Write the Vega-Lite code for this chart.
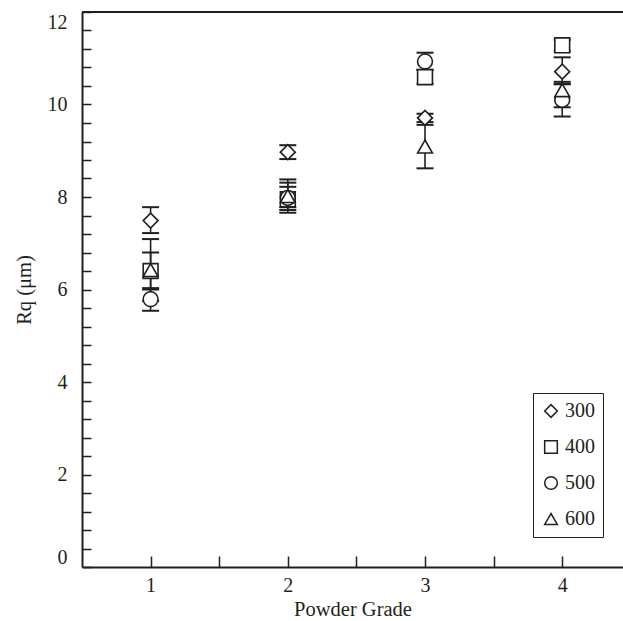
{
  "$schema": "https://vega.github.io/schema/vega-lite/v6.json",
  "autosize": "none",
  "width": 541,
  "height": 555,
  "padding": {"left": 82, "top": 12, "right": 0, "bottom": 54},
  "background": "white",
  "config": {
    "font": "Liberation Serif",
    "view": {"stroke": null},
    "axis": {"grid": false, "labelOverlap": false, "domainColor": "#231f20", "domainWidth": 2, "tickColor": "#231f20", "tickWidth": 1.5, "labelColor": "#231f20", "titleColor": "#231f20", "labelFont": "Liberation Serif", "titleFont": "Liberation Serif", "labelFontSize": 20, "titleFontSize": 20.5, "titleFontWeight": "normal"}
  },
  "data": {"values": [
    {"grade": 1, "series": "300", "value": 7.49, "lo": 7.22, "hi": 7.78},
    {"grade": 1, "series": "400", "value": 6.40, "lo": 6.00, "hi": 6.80},
    {"grade": 1, "series": "500", "value": 5.79, "lo": 5.54, "hi": 6.03},
    {"grade": 1, "series": "600", "value": 6.42, "lo": 5.75, "hi": 7.09},
    {"grade": 2, "series": "300", "value": 8.97, "lo": 8.82, "hi": 9.12},
    {"grade": 2, "series": "400", "value": 7.95, "lo": 7.66, "hi": 8.22},
    {"grade": 2, "series": "500", "value": 7.98, "lo": 7.72, "hi": 8.31},
    {"grade": 2, "series": "600", "value": 8.02, "lo": 7.78, "hi": 8.38},
    {"grade": 3, "series": "300", "value": 9.71, "lo": 9.62, "hi": 9.80},
    {"grade": 3, "series": "400", "value": 10.59, "lo": 10.45, "hi": 10.75},
    {"grade": 3, "series": "500", "value": 10.93, "lo": 10.75, "hi": 11.12},
    {"grade": 3, "series": "600", "value": 9.09, "lo": 8.62, "hi": 9.56},
    {"grade": 4, "series": "300", "value": 10.71, "lo": 10.44, "hi": 11.02},
    {"grade": 4, "series": "400", "value": 11.28, "lo": 11.15, "hi": 11.40},
    {"grade": 4, "series": "500", "value": 10.10, "lo": 9.74, "hi": 10.44},
    {"grade": 4, "series": "600", "value": 10.31, "lo": 9.94, "hi": 10.49}
  ]},
  "layer": [
    {
      "mark": {"type": "rule", "color": "#231f20", "strokeWidth": 1.5},
      "encoding": {"y": {"datum": 12, "type": "quantitative"}}
    },
    {
      "mark": {"type": "rule", "color": "#231f20", "strokeWidth": 1.6},
      "encoding": {
        "x": {"field": "grade", "type": "quantitative"},
        "y": {"field": "lo", "type": "quantitative"},
        "y2": {"field": "hi"}
      }
    },
    {
      "mark": {"type": "tick", "orient": "horizontal", "color": "#231f20", "size": 17, "thickness": 2, "opacity": 1},
      "encoding": {"x": {"field": "grade", "type": "quantitative"}, "y": {"field": "lo", "type": "quantitative"}}
    },
    {
      "mark": {"type": "tick", "orient": "horizontal", "color": "#231f20", "size": 17, "thickness": 2, "opacity": 1},
      "encoding": {"x": {"field": "grade", "type": "quantitative"}, "y": {"field": "hi", "type": "quantitative"}}
    },
    {
      "mark": {"type": "point", "filled": false, "fill": "white", "fillOpacity": 1, "stroke": "#231f20", "strokeWidth": 1.6, "size": 220, "opacity": 1},
      "encoding": {
        "x": {"field": "grade", "type": "quantitative", "scale": {"domain": [0.5, 4.443], "nice": false, "zero": false},
          "axis": {"title": "Powder Grade", "values": [1, 1.5, 2, 2.5, 3, 3.5, 4], "tickCount": 100, "labelExpr": "datum.value % 1 === 0 ? format(datum.value, 'd') : ''", "tickSize": -11, "labelPadding": 19, "titlePadding": 4}},
        "y": {"field": "value", "type": "quantitative", "scale": {"domain": [0, 12], "nice": false, "zero": false},
          "axis": {"title": "Rq (μm)", "values": [0, 0.4, 0.8, 1.2, 1.6, 2, 2.4, 2.8, 3.2, 3.6, 4, 4.4, 4.8, 5.2, 5.6, 6, 6.4, 6.8, 7.2, 7.6, 8, 8.4, 8.8, 9.2, 9.6, 10, 10.4, 10.8, 11.2, 11.6, 12],
            "tickCount": 100, "labelExpr": "datum.value % 2 === 0 ? format(datum.value, 'd') : ''", "tickSize": -9, "labelPadding": 24, "labelFlush": true, "labelFlushOffset": 0, "titlePadding": 13}},
        "shape": {"field": "series", "type": "nominal",
          "scale": {"domain": ["300", "400", "500", "600"], "range": ["diamond", "square", "circle", "triangle-up"]},
          "legend": {"title": null, "orient": "none", "legendX": 451, "legendY": 381, "strokeColor": "#231f20", "fillColor": "white", "padding": 8, "rowPadding": 16, "labelFont": "Liberation Serif", "labelFontSize": 20, "labelColor": "#231f20", "labelOffset": 4, "symbolSize": 160,
            "encode": {"symbols": {"update": {"stroke": {"value": "#231f20"}, "fill": {"value": "white"}, "strokeWidth": {"value": 1.5}, "opacity": {"value": 1}}}}}}
      }
    }
  ]
}
